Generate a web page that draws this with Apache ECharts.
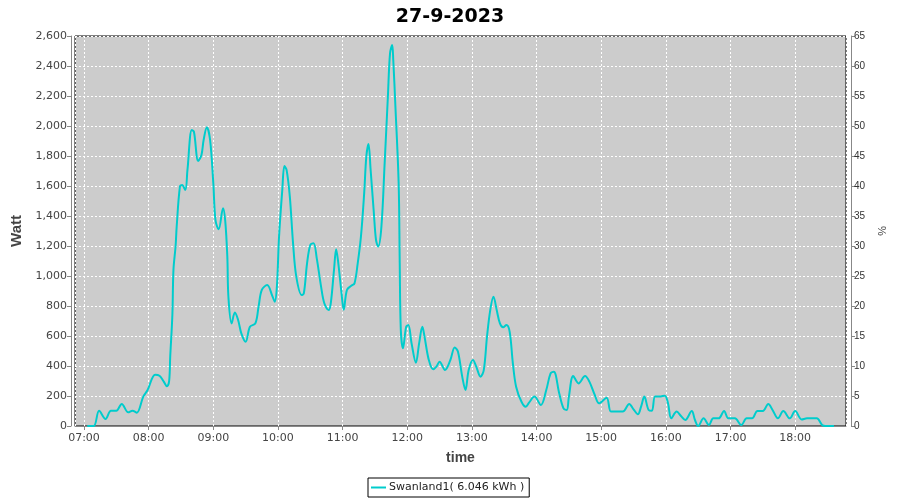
<!DOCTYPE html>
<html>
<head>
<meta charset="utf-8">
<script src="https://cdn.jsdelivr.net/npm/echarts@6/dist/echarts.min.js"></script>
<style>html,body{margin:0;padding:0;background:#fff}#c{width:900px;height:500px}</style>
</head>
<body>
<div id="c"></div>
<script>
const chartTitle = '27-9-2023';
const seriesName = 'Swanland1( 6.046 kWh )';
const day = [2023, 8, 27];
const xMin = '06:51:38';
const xMax = '18:47:10';
const times = ['07:03','07:09','07:14','07:20','07:25','07:30','07:35','07:41','07:45','07:49','07:55','07:59',
'08:06','08:10','08:14','08:17','08:19','08:20','08:22','08:23','08:25','08:26','08:29','08:31','08:34','08:36','08:40','08:42','08:46','08:49','08:51','08:54','08:57',
'09:00','09:02','09:05','09:09','09:11','09:13','09:14','09:17','09:20','09:23','09:26','09:30','09:34','09:39','09:42','09:45','09:50','09:55','09:57','09:59',
'10:01','10:04','10:06','10:08','10:11','10:14','10:17','10:22','10:24','10:27','10:30','10:33','10:36','10:40','10:43','10:47','10:49','10:52','10:54','10:56','10:59',
'11:01','11:04','11:08','11:11','11:14','11:17','11:20','11:22','11:24','11:26','11:29','11:31','11:33','11:36','11:39','11:42','11:44','11:46','11:47','11:49','11:52','11:53','11:54','11:56','11:59',
'12:01','12:04','12:08','12:11','12:14','12:16','12:20','12:24','12:27','12:30','12:35','12:40','12:44','12:47','12:51','12:54','12:57',
'13:01','13:04','13:08','13:11','13:14','13:17','13:20','13:23','13:26','13:29','13:32','13:35','13:38','13:41','13:46','13:50','13:53','13:58',
'14:04','14:09','14:13','14:16','14:21','14:25','14:28','14:30','14:34','14:39','14:45','14:49','14:54','14:58',
'15:05','15:09','15:14','15:20','15:26','15:30','15:34','15:37','15:40','15:44','15:47','15:50','15:54','15:59',
'16:02','16:05','16:10','16:14','16:18','16:24','16:27','16:30','16:35','16:40','16:44','16:49','16:54','16:58',
'17:04','17:10','17:15','17:20','17:25','17:30','17:35','17:39','17:44','17:49','17:55',
'18:00','18:06','18:11','18:20','18:25','18:28','18:36'];
const watts = [0,0,102,47,102,102,147,91,102,89,196,240,
342,335,296,265,300,462,740,1040,1200,1329,1596,1607,1573,1707,1973,1962,1767,1807,1907,1991,1907,
1618,1373,1311,1451,1373,1129,862,684,756,707,618,562,662,684,796,907,940,862,829,929,
1262,1573,1733,1707,1529,1218,996,873,884,1084,1207,1218,1118,929,818,773,818,1040,1178,1084,884,
775,907,935,951,1084,1262,1551,1796,1880,1707,1418,1240,1196,1329,1751,2195,2484,2540,2440,2129,1618,1084,640,518,662,
673,551,422,551,662,596,440,378,396,429,373,440,524,496,329,240,373,
440,396,329,373,596,773,862,773,684,658,673,629,418,262,162,129,156,196,
140,240,351,362,218,118,107,196,333,284,333,296,207,151,
189,96,96,96,147,111,78,129,196,107,102,196,196,202,
151,51,96,67,40,100,40,0,51,7,51,51,100,51,
51,7,51,51,100,100,147,107,51,100,51,
100,44,51,51,7,0,0];
const wattAxis = {min: 0, max: 2600, step: 200};
const pctAxis = {min: 0, max: 65, step: 5};

function ts(hm) {
  const p = hm.split(':').map(Number);
  return new Date(day[0], day[1], day[2], p[0], p[1], p[2] || 0).getTime();
}
const data = times.map((t, i) => [ts(t), watts[i]]);

const font = 'DejaVu Sans';
const gridLine = {show: true, lineStyle: {color: '#ffffff', width: 1, type: [2, 2]}};
const axisGray = {color: '#888888', width: 1};

const chart = echarts.init(document.getElementById('c'), null, {renderer: 'canvas'});
chart.setOption({
  animation: false,
  backgroundColor: '#ffffff',
  title: {
    text: chartTitle, left: 'center', top: 3,
    textStyle: {fontFamily: font, fontWeight: 'bold', fontSize: 19, color: '#000'}
  },
  grid: {left: 75, right: 54, top: 36, bottom: 74, show: true,
    backgroundColor: '#cccccc', borderColor: '#000', borderWidth: 1},
  legend: {
    left: 368, top: 478, icon: 'rect', itemWidth: 15, itemHeight: 2, itemGap: 0,
    padding: [4, 5, 4, 3], borderColor: '#000', borderWidth: 1,
    textStyle: {fontFamily: font, fontSize: 11, color: '#222', padding: [0, 0, 0, -2]}
  },
  xAxis: {
    type: 'time', min: ts(xMin), max: ts(xMax),
    minInterval: 3600000, maxInterval: 3600000,
    offset: 3,
    axisLine: {show: true, lineStyle: axisGray},
    axisTick: {show: true, length: 4, lineStyle: axisGray},
    axisLabel: {formatter: '{HH}:{mm}', color: '#444', fontSize: 11, fontFamily: font,
      margin: 4, showMinLabel: false, showMaxLabel: false, hideOverlap: false},
    splitLine: gridLine,
    name: 'time', nameLocation: 'middle', nameGap: 22,
    nameTextStyle: {fontFamily: 'Liberation Sans', fontWeight: 'bold', fontSize: 14, color: '#444'}
  },
  yAxis: [{
    type: 'value', min: wattAxis.min, max: wattAxis.max, interval: wattAxis.step,
    offset: 4,
    axisLine: {show: true, lineStyle: axisGray},
    axisTick: {show: true, length: 4, lineStyle: axisGray},
    axisLabel: {color: '#444', fontSize: 11, fontFamily: font, margin: 4,
      formatter: v => v.toLocaleString('en-US')},
    splitLine: gridLine,
    name: 'Watt', nameLocation: 'middle', nameGap: 34, nameRotate: 90,
    nameTextStyle: {fontFamily: 'Liberation Sans', fontWeight: 'bold', fontSize: 15, color: '#444'}
  }, {
    type: 'value', position: 'right', min: pctAxis.min, max: pctAxis.max, interval: pctAxis.step,
    offset: 5,
    axisLine: {show: true, lineStyle: axisGray},
    axisTick: {show: true, length: 4, lineStyle: axisGray},
    axisLabel: {color: '#333', fontSize: 10, fontFamily: 'Liberation Sans', margin: 3},
    splitLine: {show: false},
    name: '%', nameLocation: 'middle', nameGap: 24, nameRotate: -90,
    nameTextStyle: {fontFamily: 'Liberation Sans', fontSize: 11, color: '#444'}
  }],
  series: [{
    type: 'line', name: seriesName, data: data, yAxisIndex: 0,
    showSymbol: false, smooth: 0.35,
    lineStyle: {color: '#00cccc', width: 2},
    itemStyle: {color: '#00cccc'}
  }]
});
</script>
</body>
</html>
